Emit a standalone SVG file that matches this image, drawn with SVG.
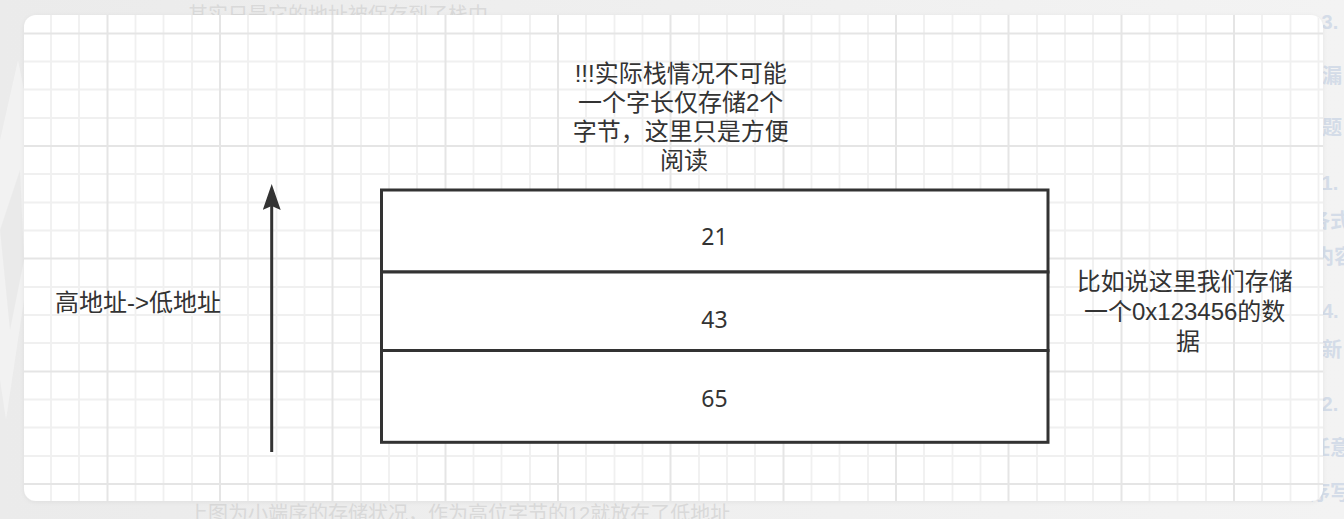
<svg xmlns="http://www.w3.org/2000/svg" width="1344" height="519" viewBox="0 0 1344 519">
  <defs>
    <style>
      .txt { font-family: "Liberation Sans", "Noto Sans CJK SC", sans-serif; fill: #333333; }
      .note { font-size: 24px; }
      .num { font-family: "Noto Sans", "Liberation Sans", sans-serif; font-size: 23px; }
      .faded { font-family: "Liberation Sans", "Noto Sans CJK SC", sans-serif; font-size: 20px; fill: #d9d9d9; }
      .side { font-family: "Liberation Sans", "Noto Sans CJK SC", sans-serif; font-size: 20px; font-weight: bold; fill: #d4dce8; }
      .cell { fill: #ffffff; stroke: #333333; stroke-width: 3; }
      .minor { stroke: #f0f0f0; stroke-width: 1.8; fill: none; }
      .major { stroke: #e5e5e5; stroke-width: 2; fill: none; }
      .conn { stroke: #333333; stroke-width: 3; fill: none; }
    </style>
    <linearGradient id="bg" x1="0" y1="0" x2="1" y2="0">
      <stop offset="0" stop-color="#ebebeb"/>
      <stop offset="1" stop-color="#f3f3f3"/>
    </linearGradient>
    <clipPath id="cardClip">
      <rect x="24" y="15" width="1299" height="486" rx="12" ry="12"/>
    </clipPath>
    <filter id="shadow" x="-5%" y="-5%" width="110%" height="110%">
      <feDropShadow dx="0" dy="1" stdDeviation="2" flood-color="#000000" flood-opacity="0.06"/>
    </filter>
    <marker id="arrow" markerUnits="userSpaceOnUse" markerWidth="27" markerHeight="19" refX="4" refY="9" orient="auto">
      <path d="M0,0 L26,9 L0,18 L4,9 Z" fill="#333333"/>
    </marker>
  </defs>

  <!-- page background -->
  <rect x="0" y="0" width="1344" height="519" fill="url(#bg)"/>
  <path d="M0,140 L18,60 L24,90 L24,300 L6,420 L0,380 Z" fill="#ffffff" opacity="0.35"/>
  <path d="M0,230 L20,170 L24,260 L10,330 Z" fill="#dddddd" opacity="0.35"/>

  <!-- faded surrounding page text -->
  <text class="faded" x="188" y="22">其实只是它的地址被保存到了栈中</text>
  <text class="faded" x="188" y="521">上图为小端序的存储状况，作为高位字节的12就放在了低地址</text>
  <text class="side" x="1316" y="29">.3.</text>
  <text class="side" x="1322" y="83">漏</text>
  <text class="side" x="1322" y="135">题</text>
  <text class="side" x="1316" y="190">.1.</text>
  <text class="side" x="1310" y="228">各式</text>
  <text class="side" x="1314" y="264">内容</text>
  <text class="side" x="1322" y="318">4.</text>
  <text class="side" x="1322" y="357">新</text>
  <text class="side" x="1316" y="411">.2.</text>
  <text class="side" x="1310" y="455">任意</text>
  <text class="side" x="1310" y="500">序写</text>

  <!-- card -->
  <rect x="24" y="15" width="1299" height="486" rx="12" ry="12" fill="#ffffff" filter="url(#shadow)"/>

  <!-- grid -->
  <g clip-path="url(#cardClip)">
    <path class="minor" d="M51,15V501 M79,15V501 M135.5,15V501 M163.5,15V501 M192,15V501 M248,15V501 M276.5,15V501 M304.5,15V501 M361,15V501 M389,15V501 M417,15V501 M473.5,15V501 M501.5,15V501 M530,15V501 M586,15V501 M614.5,15V501 M642.5,15V501 M699,15V501 M727,15V501 M755,15V501 M811.5,15V501 M839.5,15V501 M868,15V501 M924,15V501 M952.5,15V501 M980.5,15V501 M1037,15V501 M1065,15V501 M1093,15V501 M1149.5,15V501 M1177.5,15V501 M1206,15V501 M1262,15V501 M1290.5,15V501 M1318.5,15V501 M24,61.5H1323 M24,89.5H1323 M24,118H1323 M24,174H1323 M24,202.5H1323 M24,230.5H1323 M24,287H1323 M24,315H1323 M24,343H1323 M24,399.5H1323 M24,427.5H1323 M24,456H1323"/>
    <path class="major" d="M107.5,15V501 M220,15V501 M332.5,15V501 M445.5,15V501 M558,15V501 M670.5,15V501 M783.5,15V501 M896,15V501 M1008.5,15V501 M1121.5,15V501 M1234,15V501 M24,33.5H1323 M24,146H1323 M24,258.5H1323 M24,371.5H1323 M24,484H1323"/>
  </g>

  <!-- connectors -->
  <g id="connectors">
    <path id="addr-arrow" class="conn" d="M271.7,452 L271.7,206" marker-end="url(#arrow)"/>
  </g>

  <!-- nodes -->
  <g id="cell-21">
    <rect class="cell" x="381.5" y="190" width="666.5" height="82"/>
    <text class="txt num" x="714.5" y="245" text-anchor="middle">21</text>
  </g>
  <g id="cell-43">
    <rect class="cell" x="381.5" y="272" width="666.5" height="78.5"/>
    <text class="txt num" x="714.5" y="328" text-anchor="middle">43</text>
  </g>
  <g id="cell-65">
    <rect class="cell" x="381.5" y="350.5" width="666.5" height="91.8"/>
    <text class="txt num" x="714.5" y="406.5" text-anchor="middle">65</text>
  </g>

  <g id="note-top">
    <text class="txt note" text-anchor="middle">
      <tspan x="684" y="81.5">!!!实际栈情况不可能</tspan>
      <tspan x="684" y="110.5">一个字长仅存储2个</tspan>
      <tspan x="684" y="139.5">字节，这里只是方便</tspan>
      <tspan x="684" y="168.5">阅读</tspan>
    </text>
  </g>

  <g id="label-addr">
    <text class="txt note" x="55" y="311">高地址-&gt;低地址</text>
  </g>

  <g id="note-right">
    <text class="txt note" text-anchor="middle">
      <tspan x="1188" y="290">比如说这里我们存储</tspan>
      <tspan x="1188" y="320">一个0x123456的数</tspan>
      <tspan x="1188" y="350">据</tspan>
    </text>
  </g>
</svg>
